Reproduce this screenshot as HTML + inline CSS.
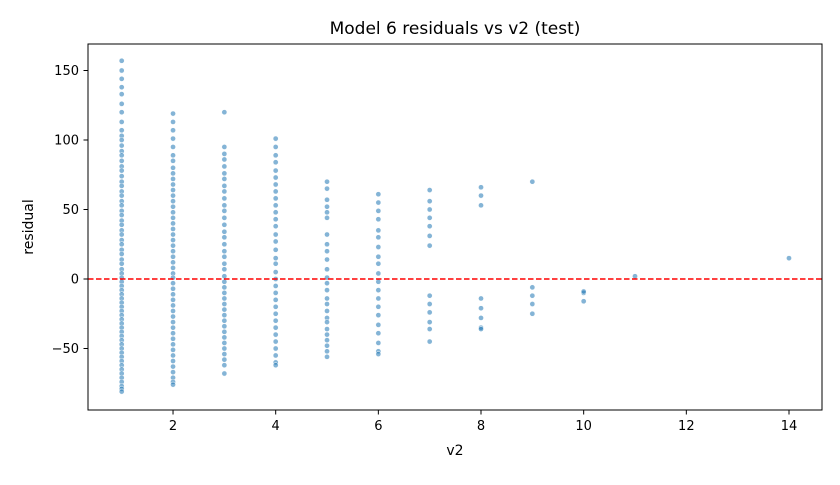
<!DOCTYPE html>
<html><head><meta charset="utf-8"><style>
body{margin:0;background:#fff;font-family:"Liberation Sans","DejaVu Sans",sans-serif}
</style></head><body>
<svg id="chart" width="840" height="480" xmlns="http://www.w3.org/2000/svg" font-family="DejaVu Sans, Liberation Sans, sans-serif">
<rect width="840" height="480" fill="#fff"/>
<text x="455" y="34" font-size="17" text-anchor="middle">Model 6 residuals vs v2 (test)</text>
<text x="455" y="455" font-size="14" text-anchor="middle">v2</text>
<text x="0" y="0" font-size="14" text-anchor="middle" transform="translate(33,227) rotate(-90)">residual</text>
<g id="grid"></g>
<g id="pts"></g>
<line id="zl" stroke="#ff0000" stroke-width="1.5" stroke-dasharray="5.5,2.5"/>
<rect x="88" y="44" width="734" height="366" fill="none" stroke="#000" stroke-width="1"/>
</svg>
<script>
const xTicks=[2,4,6,8,10,12,14];
const yTicks=[-50,0,50,100,150];
const xVals=[1,2,3,4,5,6,7,8,9,10,11,14];
const col1=[157,150,144,138,133,126,120,113,107,103,100,96,92,89,85,81,78,74,70,67,63,60,56,53,49,46,42,39,35,32,28,25,21,18,14,11,7,4,1,-2,-5,-8,-11,-14,-17,-20,-23,-26,-29,-32,-35,-38,-41,-44,-47,-50,-53,-56,-59,-62,-65,-68,-71,-74,-77,-79,-81];
const col2=[119,113,107,101,95,89,85,80,76,72,68,64,60,56,52,48,44,40,36,32,28,24,20,16,12,8,4,1,-3,-7,-11,-15,-19,-23,-27,-31,-35,-39,-43,-47,-51,-55,-59,-63,-67,-71,-74,-76];
const col3=[120,95,90,86,81,76,72,67,63,58,53,49,44,39,34,30,25,20,16,11,7,2,-2,-6,-10,-14,-18,-22,-26,-30,-34,-38,-42,-46,-50,-54,-58,-62,-68];
const col4=[101,95,89,84,78,73,68,63,58,53,48,43,38,32,27,21,15,11,5,0,-5,-10,-15,-20,-25,-30,-35,-40,-45,-50,-55,-60,-62];
const col5=[70,65,57,52,48,44,32,25,20,14,7,1,-3,-8,-14,-18,-23,-28,-31,-36,-40,-44,-48,-52,-56];
const col6=[61,55,49,43,35,30,23,16,11,4,-2,-8,-14,-20,-26,-33,-39,-46,-52,-54];
const col7=[64,56,50,44,38,31,24,-12,-18,-24,-31,-36,-45];
const col8=[66,60,53,-14,-21,-28,-35,-36];
const col9=[70,-6,-12,-18,-25];
const col10=[-10,-9,-16];
const col11=[2];
const col14=[15];
const residuals=[col1,col2,col3,col4,col5,col6,col7,col8,col9,col10,col11,col14];
const NS="http://www.w3.org/2000/svg";
const X=v=>121.7+(v-1)*51.33;
const Y=v=>279-v*1.39;
const svg=document.getElementById('chart'),g=document.getElementById('grid'),p=document.getElementById('pts');
function mk(t,a,par){const e=document.createElementNS(NS,t);for(const k in a)e.setAttribute(k,a[k]);par.appendChild(e);return e;}
xTicks.forEach(t=>{
 const l=mk('line',{x1:X(t),x2:X(t),y1:410,y2:414.5,stroke:'#000'},g);
 
 
 const s=mk('text',{x:X(t),y:430,'font-size':13,'text-anchor':'middle'},g);s.textContent=t;
 
 
});
yTicks.forEach(t=>{
 const l=mk('line',{x1:83.5,x2:88,y1:Y(t),y2:Y(t),stroke:'#000'},g);
 
 
 const s=mk('text',{x:79,y:Y(t)+4.5,'font-size':13,'text-anchor':'end'},g);s.textContent=t<0?'\u2212'+(-t):t;
 
 
});
xVals.forEach((xv,i)=>residuals[i].forEach(r=>{
 const c=mk('circle',{cx:X(xv),cy:Y(r),r:2.6,fill:'rgba(31,119,180,0.55)',stroke:'#fff','stroke-width':0.5},p);
 
 
}));
const zl=document.getElementById('zl');
zl.setAttribute('x1',88);zl.setAttribute('x2',822);zl.setAttribute('y1',Y(0));zl.setAttribute('y2',Y(0));
</script>
</body></html>
